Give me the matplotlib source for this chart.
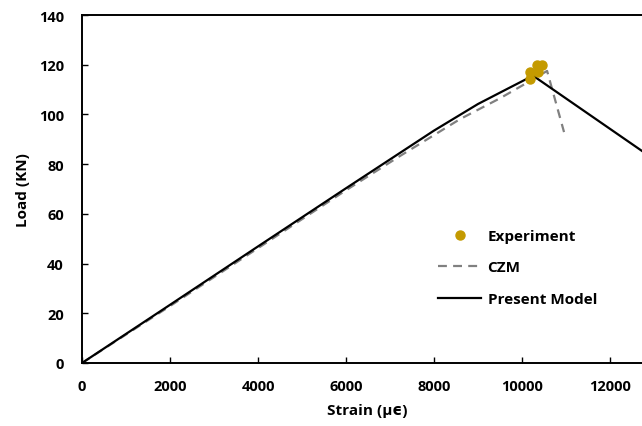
import numpy as np
import matplotlib.pyplot as plt

plt.rcParams['font.family'] = ['Open Sans', 'DejaVu Sans']
plt.rcParams['font.weight'] = 'bold'

# Experiment points (strain in micro-strain, load in kN)
exp_strain = [10180, 10180, 10340, 10450, 10360]
exp_load = [117.2, 114.4, 120.0, 120.0, 117.2]

# CZM curve
czm_strain = [0, 2000, 4000, 6000, 7230, 8590, 9500, 10180, 10570, 10955]
czm_load = [0, 22.9, 46.2, 69.5, 83.3, 98.1, 106.5, 113.4, 117.5, 92.9]

# Present model
pm_strain = [0, 2000, 4000, 6000, 8000, 9000, 9700, 10250, 12727, 14000]
pm_load = [0, 23.4, 46.9, 70.3, 93.5, 104.2, 110.6, 115.6, 85.3, 69.4]

fig = plt.figure(figsize=(6.42, 4.27), dpi=100)
ax = fig.add_axes([82/642, 63/427, 1 - 82/642, 348/427])

ax.plot(czm_strain, czm_load, color='#808080', lw=1.6, ls=(0, (4, 2.8)), label='CZM', zorder=2)
ax.plot(pm_strain, pm_load, color='black', lw=1.6, label='Present Model', zorder=3)
ax.plot(exp_strain, exp_load, 'o', color='#C49A00', ms=6.5, label='Experiment', zorder=4)

ax.set_xlim(0, 12727)
ax.set_ylim(0, 140)
ax.set_xticks(np.arange(0, 12001, 2000))
ax.set_yticks(np.arange(0, 141, 20))
ax.tick_params(direction='in', length=4, width=1, labelsize=10.5)
ax.tick_params(axis='x', pad=11.5)
ax.tick_params(axis='y', pad=13)
for lab in ax.get_xticklabels() + ax.get_yticklabels():
    lab.set_fontweight('bold')
ax.spines['right'].set_visible(False)
for s in ['left', 'bottom', 'top']:
    ax.spines[s].set_linewidth(1.4)

ax.set_xlabel('Strain (µϵ)', fontsize=11, fontweight='bold')
ax.set_ylabel('Load (KN)', fontsize=11, fontweight='bold')
ax.xaxis.set_label_coords(0.509, -0.115)
ax.yaxis.set_label_coords(-0.093, 0.5)

h, l = ax.get_legend_handles_labels()
order = [2, 0, 1]
leg = ax.legend([h[i] for i in order], [l[i] for i in order], frameon=False,
                loc='upper left', bbox_to_anchor=(0.611, 0.425),
                handlelength=2.85, labelspacing=1.15, handletextpad=0.4,
                prop={'weight': 'bold', 'size': 11})

fig.savefig('out.png', dpi=100)
